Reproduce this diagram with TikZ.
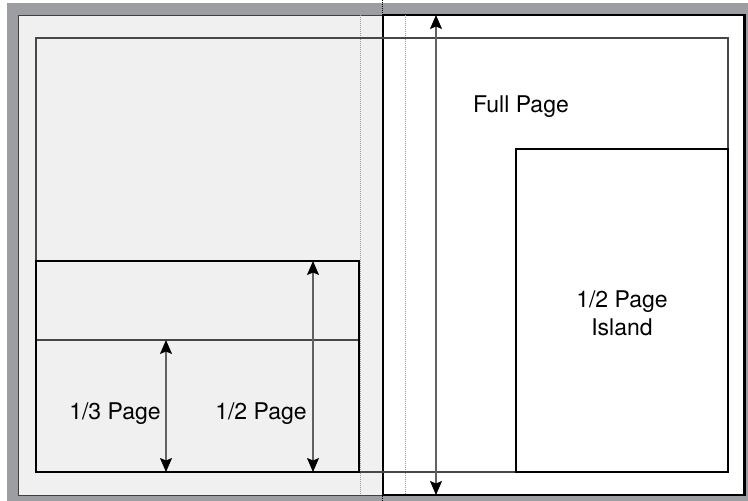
\documentclass[tikz,border=0pt]{standalone}
\usepackage{fontspec}
\setmainfont{TeX Gyre Heros}
\usetikzlibrary{arrows.meta}

\definecolor{spreadgray}{HTML}{9D9EA2}
\definecolor{leafgray}{HTML}{F0F0F0}

\begin{document}
\begin{tikzpicture}[x=1pt, y=-1pt,
    trimline/.style={draw=black!72, line width=1.5pt},
    adbox/.style={draw=black, line width=1.4pt, inner sep=0pt, outer sep=0pt, anchor=north west},
    gutter/.style={draw=black!40, line width=1pt, densely dotted},
    dimarrow/.style={draw=black!62, line width=1.1pt, {Stealth[length=14pt, width=12pt, inset=2.5pt, black]}-{Stealth[length=14pt, width=12pt, inset=2.5pt, black]}},
    adtext/.style={font=\fontsize{23}{28}\selectfont, align=center, anchor=base}
]

    % Spread background
    \useasboundingbox (0,0) rectangle (748,501);
    \fill[white] (0,0) rectangle (748,501);
    \fill[spreadgray] (7,3) rectangle (748,501);

    % Left and right pages
    \filldraw[fill=leafgray, draw=black!75, line width=1pt] (18,15) rectangle (383,495);
    \filldraw[fill=white, draw=black, line width=1.5pt] (383,15) rectangle (744,495);
    \draw[line width=3pt] (744,14) -- (744,496);

    % Gutter and spine
    \draw[gutter] (360,15) -- (360,495);
    \draw[gutter] (405,15) -- (405,495);
    \draw[draw=black, line width=1pt, densely dotted] (382,0) -- (382,501);

    % Ad units
    \node[adbox, trimline, minimum width=692pt, minimum height=434pt] (fullpage) at (36,38) {};
    \node[adbox, draw=black!72, minimum width=323pt, minimum height=132pt] (thirdpage) at (36,340) {};
    \node[adbox, minimum width=323pt, minimum height=211pt] (halfpage) at (36,261) {};
    \node[adbox, minimum width=212pt, minimum height=323pt] (island) at (516,149) {};

    % Measure arrows
    \coordinate (thirdx) at (166,0);
    \coordinate (halfx) at (313,0);
    \coordinate (fulltop) at (436,15);
    \coordinate (fullbot) at (436,495);
    \draw[dimarrow] (thirdpage.north -| thirdx) -- (thirdpage.south -| thirdx);
    \draw[dimarrow] (halfpage.north -| halfx) -- (halfpage.south -| halfx);
    \draw[dimarrow] (fulltop) -- (fullbot);

    % Labels
    \node[adtext] (fulltext) at (521,112) {Full Page};
    \node[adtext] (islandtext) at (622,335) {1/2 Page\\Island};
    \node[adtext] (thirdtext) at (115,419) {1/3 Page};
    \node[adtext] (halftext) at (261,419) {1/2 Page};

\end{tikzpicture}
\end{document}
